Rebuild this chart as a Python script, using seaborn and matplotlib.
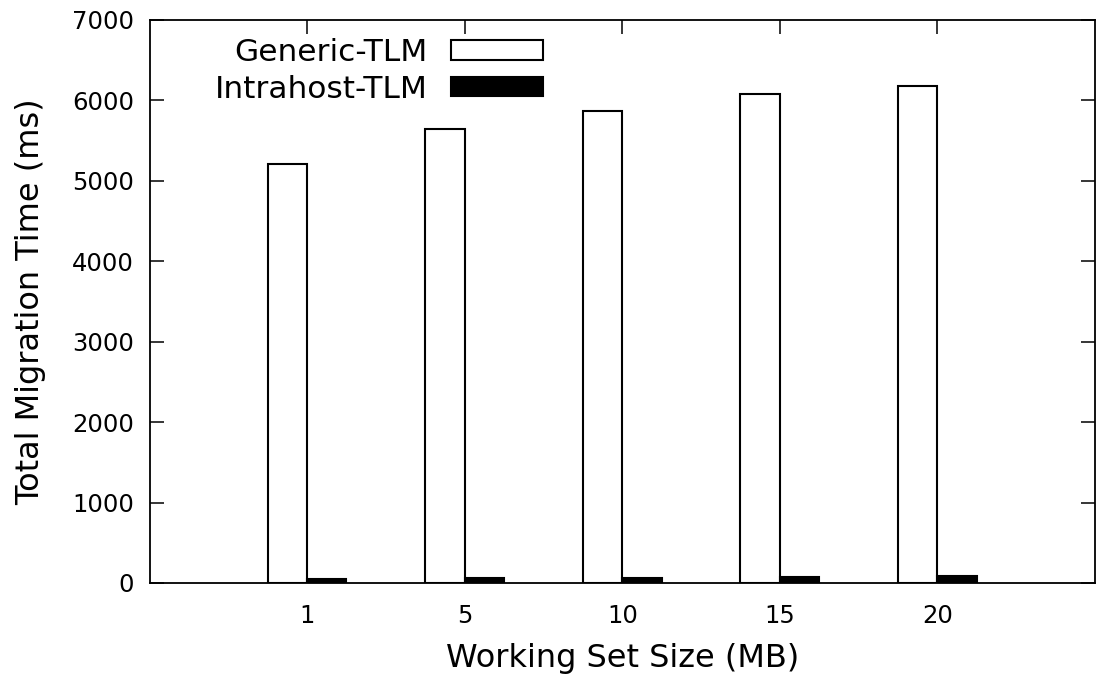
import matplotlib
matplotlib.use("Agg")
import matplotlib.pyplot as plt
import seaborn as sns
import pandas as pd
from matplotlib.patches import Patch

sizes = ["1", "5", "10", "15", "20"]
generic_tlm = [5210, 5650, 5870, 6085, 6180]
intrahost_tlm = [52, 60, 68, 74, 90]
series_names = ["Generic-TLM", "Intrahost-TLM"]
y_ticks = [0, 1000, 2000, 3000, 4000, 5000, 6000, 7000]

df = pd.DataFrame({
    "size": sizes * 2,
    "time": generic_tlm + intrahost_tlm,
    "series": [series_names[0]] * len(sizes) + [series_names[1]] * len(sizes),
})

sns.set_theme(style="white")
plt.rcParams["font.family"] = ["DejaVu Sans"]
plt.rcParams["text.color"] = "black"
plt.rcParams["axes.labelcolor"] = "black"
plt.rcParams["xtick.color"] = "black"
plt.rcParams["ytick.color"] = "black"

fig = plt.figure(figsize=(10.96, 6.79), dpi=100)
ax = fig.add_axes([149.5 / 1096, 1 - 583 / 679, (1095 - 149.5) / 1096, (583 - 20) / 679])

palette = {series_names[0]: "white", series_names[1]: "black"}
sns.barplot(data=df, x="size", y="time", hue="series", order=sizes,
            hue_order=series_names, palette=palette, width=0.5, gap=0,
            edgecolor="black", linewidth=1.5, saturation=1, ax=ax, legend=False)

ax.set_xlim(-1, 5)
ax.set_ylim(0, 7000)
ax.set_yticks(y_ticks)
ax.set_yticklabels([str(v) for v in y_ticks])
ax.set_xticks(range(len(sizes)))
ax.set_xticklabels(sizes)

for s in ax.spines.values():
    s.set_visible(True)
    s.set_color("black")
    s.set_linewidth(1.3)

ax.tick_params(axis="both", direction="in", length=10, width=1.1, color="black",
               top=True, right=True, bottom=True, left=True, labelsize=17.5,
               labelcolor="black")
ax.tick_params(axis="x", pad=15)
ax.tick_params(axis="y", pad=11)

ax.set_xlabel("Working Set Size (MB)", fontsize=23, labelpad=11)
ax.set_ylabel("Total Migration Time (ms)", fontsize=23, labelpad=19)

handles = [Patch(facecolor="white", edgecolor="black", linewidth=1.5),
           Patch(facecolor="black", edgecolor="black", linewidth=1.5)]
leg = fig.legend(handles, series_names, loc="upper right",
                 bbox_to_anchor=(543 / 1096, 1 - 38 / 679),
                 frameon=False, fontsize=22.5, markerfirst=False,
                 handlelength=2.95, handleheight=0.57, handletextpad=0.75,
                 labelspacing=0.25, borderpad=0, borderaxespad=0)

fig.savefig("out.png", dpi=100)
